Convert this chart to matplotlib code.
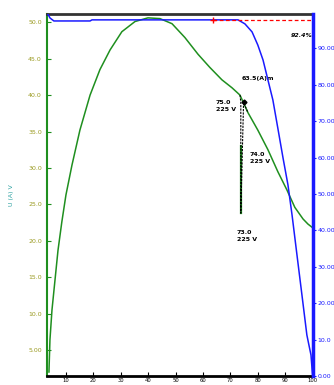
import numpy as np
import matplotlib.pyplot as plt

# green curve (left axis)
power_x = [3.8, 4.16, 4.9, 6.0, 7.1, 8.5, 10, 12.2, 15.1, 18.8, 22.4, 26.1, 30.4, 35.2,
           39.9, 44.3, 48.7, 53.4, 58.2, 62.5, 66.9, 70.6, 73.5, 76.4, 80.0, 83.7,
           87.3, 90.6, 93.5, 96.5, 98.3, 100]
power_y = [2.0, 6.4, 10.5, 14.6, 18.7, 22.6, 26.3, 30.4, 35.2, 40.0, 43.5, 46.2, 48.7, 50.1,
           50.6, 50.5, 49.8, 47.9, 45.6, 43.8, 42.1, 41.0, 40.0, 37.6, 35.2, 32.5,
           29.5, 27.0, 24.6, 23.0, 22.3, 21.8]
drop_x = [73.8, 73.8]
drop_y = [33.0, 23.8]
dash_x = [73.5, 73.8, 73.8, 74.8, 76.4]
dash_y = [40.0, 39.0, 23.8, 39.0, 37.6]

# blue curve (right axis)
curr_x = [3.4, 4.2, 5.6, 18.8, 19.5, 72.8, 75.3, 77.9, 80.0, 81.9, 83.7, 85.5, 87.3,
          89.2, 91.0, 92.5, 94.3, 96.1, 97.9, 99.4, 100]
curr_y = [99.4, 98.3, 97.5, 97.5, 97.8, 97.8, 96.7, 94.5, 90.9, 86.8, 81.3, 75.8, 68.1,
          59.9, 52.5, 44.2, 33.2, 22.3, 11.3, 5.8, 0]
ref_x = [63.6, 100]
ref_y = [97.8, 97.8]

left_ticks = [5, 10, 15, 20, 25, 30, 35, 40, 45, 50]
left_labels = ['5.00', '10.0', '15.0', '20.0', '25.0', '30.0', '35.0', '40.0', '45.0', '50.0']
right_ticks = [0, 10, 20, 30, 40, 50, 60, 70, 80, 90]
right_labels = ['0.00', '10.0', '20.00', '30.00', '40.00', '50.00', '60.00', '70.00', '80.00', '90.00']
x_ticks = [10, 20, 30, 40, 50, 60, 70, 80, 90, 100]

fig = plt.figure(figsize=(3.34, 3.85), dpi=100)
ax = fig.add_axes([0.14, 0.023, 0.796, 0.941])
ax2 = ax.twinx()

ax.plot(power_x, power_y, color='#1f8f1f', lw=1.1)
ax.plot(drop_x, drop_y, color='#1f8f1f', lw=1.6)
ax.plot(dash_x, dash_y, color='black', lw=0.8, ls=(0, (2, 1)))
ax.plot([74.8], [39.0], marker='D', ms=2.5, color='black')
ax2.plot(curr_x, curr_y, color='#1a1aff', lw=1.1)
ax2.plot(ref_x, ref_y, color='red', lw=0.9, ls=(0, (3, 2)))
ax2.plot([63.6], [97.8], marker='+', ms=4, color='red')

ax.set_xlim(3, 100)
ax.set_ylim(1.43, 51.15)
ax2.set_ylim(0, 99.45)

ax.set_yticks(left_ticks)
ax.set_yticklabels(left_labels)
ax.set_xticks(x_ticks)
ax.set_xticklabels([str(t) for t in x_ticks])
ax2.set_yticks(right_ticks)
ax2.set_yticklabels(right_labels)

ax.tick_params(axis='y', direction='in', colors='#1f8f1f', labelcolor='#9a9a20', labelsize=4.5, length=3)
ax.tick_params(axis='x', direction='in', labelsize=3.8, length=3, pad=1)
ax2.tick_params(axis='y', direction='out', colors='#1a1aff', labelsize=4.5, length=2.5, pad=1)

ax.spines['left'].set_color('#1f8f1f')
ax.spines['left'].set_linewidth(1.5)
ax.spines['bottom'].set_linewidth(2)
ax.spines['top'].set_linewidth(2)
ax.spines['top'].set_color('#333333')
ax2.spines['right'].set_color('#1a1aff')
ax2.spines['right'].set_linewidth(2.5)
ax2.spines['left'].set_visible(False)
ax2.spines['top'].set_visible(False)
ax2.spines['bottom'].set_visible(False)

ax.set_ylabel('U (A) V', color='#2aa0a0', fontsize=4.5, labelpad=10)

ann = dict(fontsize=4.5, color='black', fontweight='bold', va='top')
ax.text(74.2, 42.6, '63.5(A)m', **ann)
ax.text(64.7, 39.3, '75.0\n225 V', linespacing=1.5, **ann)
ax.text(77.1, 32.2, '74.0\n225 V', linespacing=1.5, **ann)
ax.text(72.4, 21.5, '73.0\n225 V', linespacing=1.5, **ann)
ax2.text(92.0, 93.0, '92.4%', fontsize=4.5, color='black', fontweight='bold', style='italic')

fig.savefig('out.png', dpi=100)
